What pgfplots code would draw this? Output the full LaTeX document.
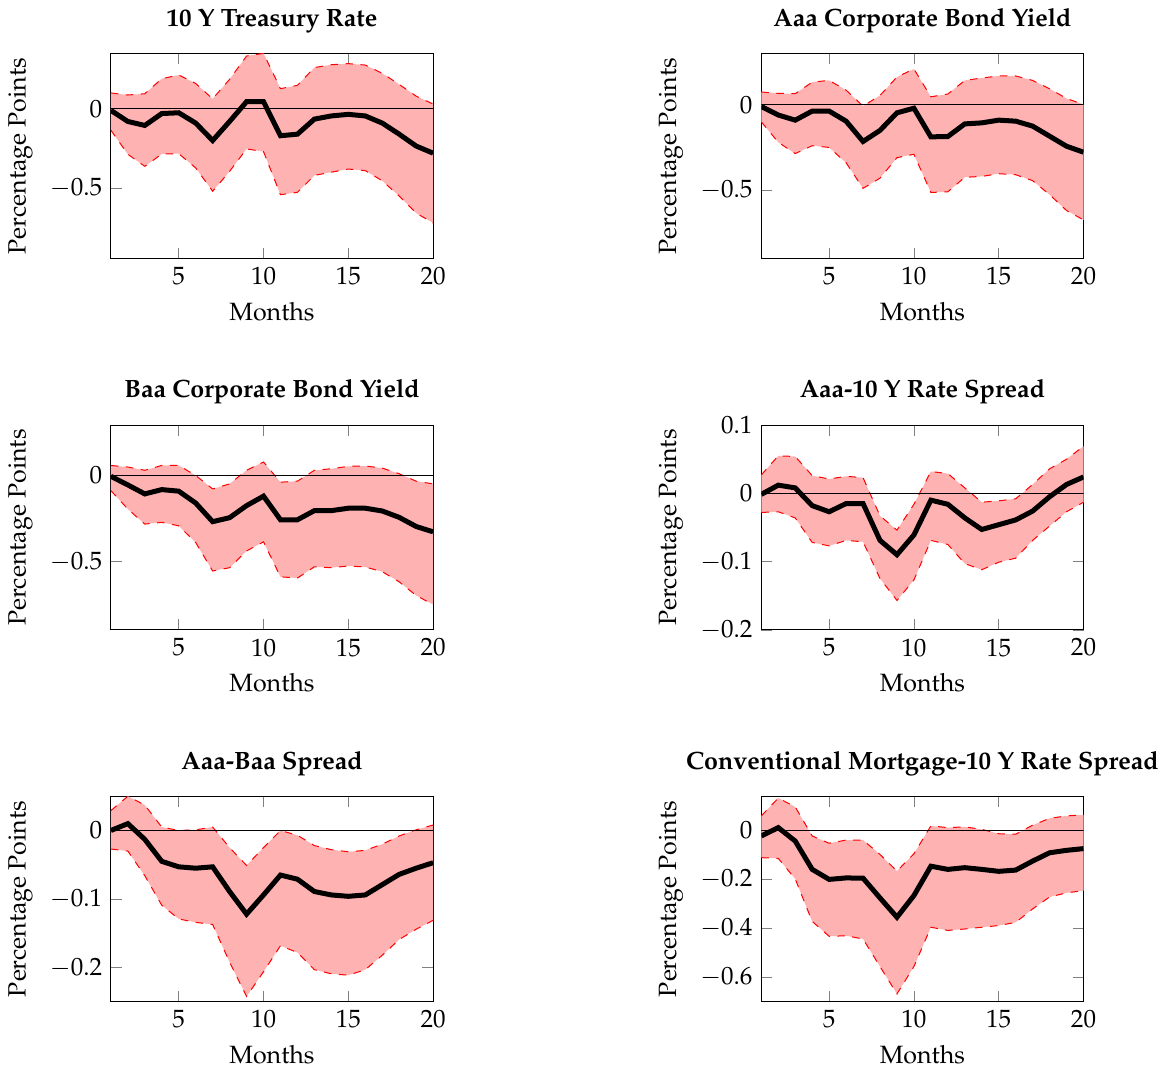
\documentclass[border=0pt]{standalone}
\usepackage[T1]{fontenc}
\usepackage{mathpazo}
\usepackage{pgfplots}
\pgfplotsset{compat=1.18}
\usepgfplotslibrary{fillbetween}

% columns: x, mean (m), upper band (u), lower band (l)
\pgfplotstableread{
x m u l
1 -0.010 0.100 -0.135
2 -0.080 0.087 -0.287
3 -0.105 0.095 -0.363
4 -0.030 0.190 -0.285
5 -0.025 0.213 -0.283
6 -0.090 0.160 -0.373
7 -0.200 0.063 -0.520
8 -0.080 0.186 -0.395
9 0.045 0.333 -0.253
10 0.045 0.350 -0.270
11 -0.170 0.127 -0.542
12 -0.160 0.148 -0.527
13 -0.065 0.260 -0.420
14 -0.045 0.278 -0.400
15 -0.035 0.285 -0.380
16 -0.045 0.276 -0.390
17 -0.090 0.224 -0.454
18 -0.160 0.154 -0.550
19 -0.235 0.080 -0.658
20 -0.280 0.030 -0.720
}\tabA
\pgfplotstableread{
x m u l
1 -0.010 0.075 -0.100
2 -0.060 0.067 -0.220
3 -0.090 0.065 -0.286
4 -0.037 0.133 -0.240
5 -0.037 0.143 -0.250
6 -0.096 0.086 -0.340
7 -0.215 -0.008 -0.490
8 -0.150 0.055 -0.430
9 -0.047 0.163 -0.310
10 -0.020 0.210 -0.290
11 -0.188 0.047 -0.514
12 -0.186 0.063 -0.510
13 -0.112 0.143 -0.425
14 -0.106 0.157 -0.420
15 -0.090 0.169 -0.404
16 -0.096 0.169 -0.410
17 -0.125 0.143 -0.445
18 -0.184 0.094 -0.527
19 -0.243 0.037 -0.620
20 -0.278 0.002 -0.675
}\tabB
\pgfplotstableread{
x m u l
1 -0.005 0.058 -0.088
2 -0.055 0.049 -0.195
3 -0.107 0.030 -0.282
4 -0.082 0.058 -0.272
5 -0.091 0.058 -0.292
6 -0.160 0.000 -0.389
7 -0.268 -0.078 -0.554
8 -0.245 -0.049 -0.535
9 -0.175 0.030 -0.438
10 -0.120 0.078 -0.385
11 -0.257 -0.039 -0.588
12 -0.257 -0.033 -0.595
13 -0.204 0.030 -0.530
14 -0.204 0.039 -0.535
15 -0.190 0.053 -0.525
16 -0.190 0.055 -0.531
17 -0.206 0.043 -0.558
18 -0.243 0.010 -0.617
19 -0.296 -0.033 -0.696
20 -0.327 -0.049 -0.749
}\tabC
\pgfplotstableread{
x m u l
1 -0.0015 0.027 -0.028
2 0.012 0.055 -0.027
3 0.008 0.054 -0.036
4 -0.018 0.026 -0.072
5 -0.027 0.021 -0.077
6 -0.015 0.025 -0.069
7 -0.015 0.023 -0.071
8 -0.069 -0.033 -0.125
9 -0.090 -0.054 -0.157
10 -0.061 -0.016 -0.127
11 -0.010 0.032 -0.069
12 -0.016 0.029 -0.075
13 -0.036 0.008 -0.103
14 -0.053 -0.013 -0.112
15 -0.046 -0.011 -0.101
16 -0.039 -0.008 -0.095
17 -0.026 0.013 -0.069
18 -0.005 0.036 -0.048
19 0.013 0.050 -0.027
20 0.024 0.069 -0.013
}\tabD
\pgfplotstableread{
x m u l
1 0.000 0.029 -0.027
2 0.010 0.050 -0.030
3 -0.013 0.037 -0.066
4 -0.045 0.005 -0.109
5 -0.053 0.000 -0.129
6 -0.055 0.001 -0.134
7 -0.053 0.005 -0.137
8 -0.089 -0.025 -0.192
9 -0.122 -0.051 -0.242
10 -0.094 -0.025 -0.206
11 -0.065 0.000 -0.168
12 -0.071 -0.007 -0.178
13 -0.089 -0.022 -0.203
14 -0.094 -0.028 -0.209
15 -0.096 -0.031 -0.211
16 -0.094 -0.029 -0.203
17 -0.079 -0.020 -0.182
18 -0.064 -0.008 -0.159
19 -0.055 0.001 -0.144
20 -0.047 0.008 -0.131
}\tabE
\pgfplotstableread{
x m u l
1 -0.023 0.059 -0.112
2 0.011 0.132 -0.115
3 -0.044 0.096 -0.199
4 -0.160 -0.023 -0.373
5 -0.201 -0.053 -0.434
6 -0.195 -0.040 -0.432
7 -0.196 -0.040 -0.445
8 -0.277 -0.099 -0.558
9 -0.356 -0.167 -0.670
10 -0.267 -0.096 -0.558
11 -0.147 0.018 -0.397
12 -0.160 0.011 -0.410
13 -0.153 0.014 -0.404
14 -0.160 0.004 -0.397
15 -0.168 -0.014 -0.390
16 -0.163 -0.016 -0.377
17 -0.126 0.021 -0.322
18 -0.092 0.049 -0.273
19 -0.082 0.059 -0.256
20 -0.075 0.063 -0.247
}\tabF

\pgfplotsset{
  irf/.style={
    scale only axis,
    width=128.8pt, height=81.8pt,
    xmin=1, xmax=20,
    xtick={5,10,15,20},
    xlabel={Months},
    ylabel={Percentage Points},
    title style={font=\bfseries, yshift=-1.2pt},
  },
}

\newcommand{\irfpanel}[1]{%
  \addplot[draw=none, name path=U, forget plot] table[x=x, y=u] {#1};
  \addplot[draw=none, name path=L, forget plot] table[x=x, y=l] {#1};
  \addplot[fill=red!30, draw=none, forget plot] fill between[of=U and L];
  \addplot[red, dashed, thin, forget plot] table[x=x, y=u] {#1};
  \addplot[red, dashed, thin, forget plot] table[x=x, y=l] {#1};
  \addplot[black, thin, forget plot] coordinates {(1,0) (20,0)};
  \addplot[black, line width=2pt, forget plot] table[x=x, y=m] {#1};
}

\begin{document}
\begin{tikzpicture}
\begin{axis}[irf, at={(0pt,297pt)}, title={10 Y Treasury Rate}, ymin=-0.943, ymax=0.348]
\irfpanel{\tabA}
\end{axis}
\begin{axis}[irf, at={(260pt,297pt)}, title={Aaa Corporate Bond Yield}, ymin=-0.90, ymax=0.30]
\irfpanel{\tabB}
\end{axis}
\begin{axis}[irf, at={(0pt,148.5pt)}, title={Baa Corporate Bond Yield}, ymin=-0.895, ymax=0.292]
\irfpanel{\tabC}
\end{axis}
\begin{axis}[irf, at={(260pt,148.5pt)}, title={Aaa-10 Y Rate Spread}, ymin=-0.2, ymax=0.1]
\irfpanel{\tabD}
\end{axis}
\begin{axis}[irf, at={(0pt,0pt)}, title={Aaa-Baa Spread}, ymin=-0.249, ymax=0.0494]
\irfpanel{\tabE}
\end{axis}
\begin{axis}[irf, at={(260pt,0pt)}, title={Conventional Mortgage-10 Y Rate Spread}, ymin=-0.70, ymax=0.138]
\irfpanel{\tabF}
\end{axis}
\end{tikzpicture}
\end{document}
